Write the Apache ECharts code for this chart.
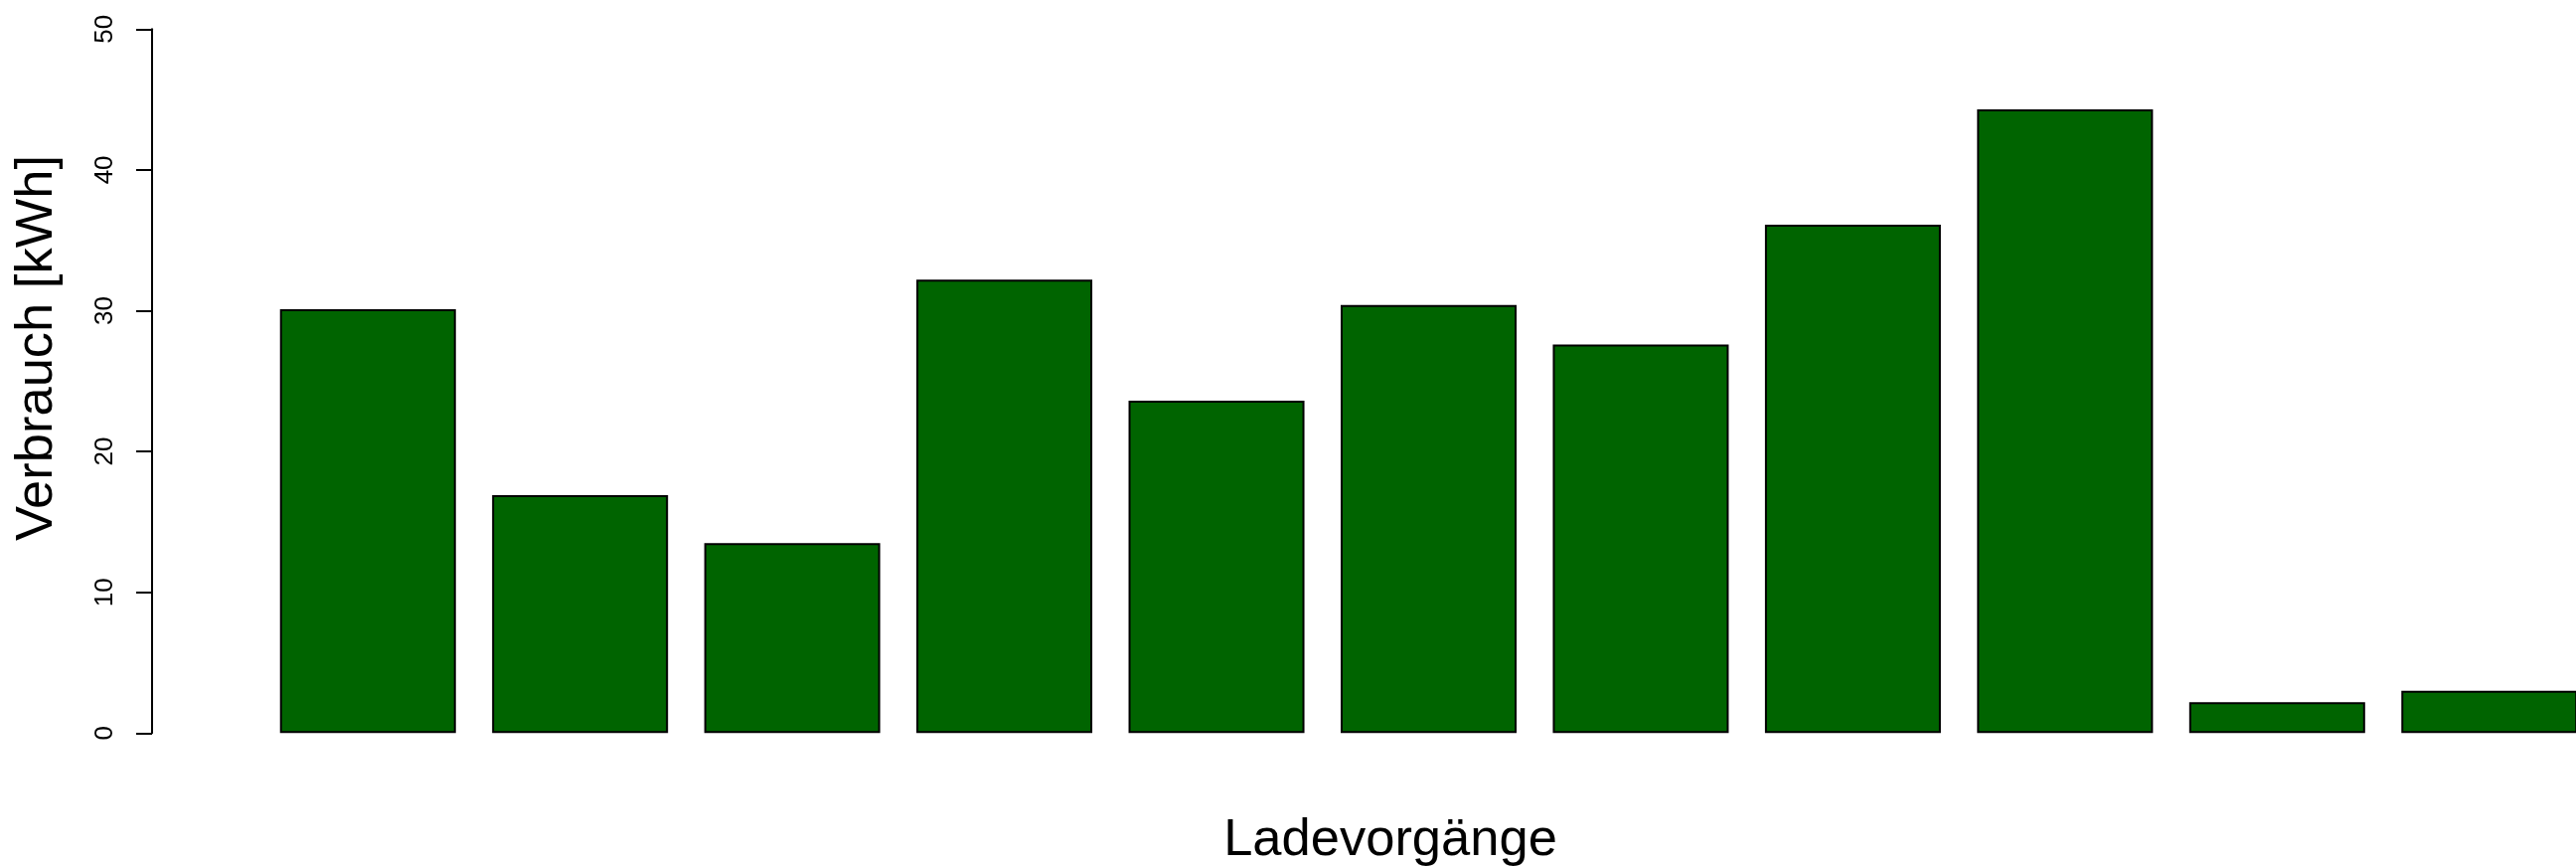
<!DOCTYPE html>
<html>
<head>
<meta charset="utf-8">
<script src="https://cdn.jsdelivr.net/npm/echarts@6/dist/echarts.min.js"></script>
<style>
html, body { margin: 0; padding: 0; background: #ffffff; }
#chart { width: 2592px; height: 871px; }
</style>
</head>
<body>
<div id="chart"></div>
<script>
// Data
const categories = ['1', '2', '3', '4', '5', '6', '7', '8', '9', '10', '11'];
const verbrauch = [30.1, 16.9, 13.5, 32.2, 23.6, 30.4, 27.6, 36.1, 44.3, 2.2, 3.0];
const yTicks = [0, 10, 20, 30, 40, 50];
const yTitle = 'Verbrauch [kWh]';
const xTitle = 'Ladevorgänge';

const FONT = '"Liberation Sans", Arial, Helvetica, sans-serif';
const chart = echarts.init(document.getElementById('chart'), null, { renderer: 'canvas' });

chart.setOption({
  animation: false,
  backgroundColor: '#ffffff',
  grid: {
    left: 263.5,
    right: -19.5,
    top: 29.3,
    bottom: 871 - 737.3,
    containLabel: false,
    outerBoundsMode: 'none'
  },
  xAxis: {
    type: 'category',
    data: categories,
    show: false
  },
  yAxis: {
    type: 'value',
    min: yTicks[0],
    max: yTicks[yTicks.length - 1],
    interval: 10,
    offset: 110.5,
    splitLine: { show: false },
    axisLine: { show: true, lineStyle: { color: '#000000', width: 2 } },
    axisTick: { show: true, length: 16, lineStyle: { color: '#000000', width: 2 } },
    axisLabel: {
      rotate: 90,
      align: 'center',
      verticalAlign: 'bottom',
      margin: 34,
      color: '#000000',
      fontSize: 26,
      fontFamily: FONT
    }
  },
  series: [{
    type: 'bar',
    data: verbrauch,
    barWidth: 177,
    itemStyle: {
      color: '#006400',
      borderColor: '#000000',
      borderWidth: 2
    }
  }],
  graphic: [
    {
      type: 'text',
      x: 38,
      y: 350,
      rotation: Math.PI / 2,
      style: {
        text: yTitle,
        font: '52.5px ' + FONT,
        fill: '#000000',
        align: 'center',
        verticalAlign: 'middle'
      }
    },
    {
      type: 'text',
      x: 1399,
      y: 846,
      style: {
        text: xTitle,
        font: '52.5px ' + FONT,
        fill: '#000000',
        align: 'center',
        verticalAlign: 'middle'
      }
    }
  ]
});
</script>
</body>
</html>
